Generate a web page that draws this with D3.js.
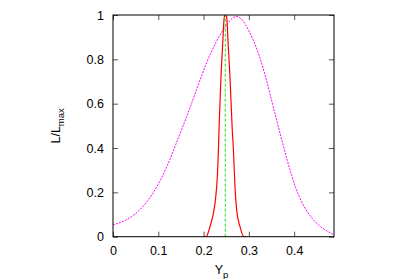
<!DOCTYPE html>
<html lang="en">
<head>
  <meta charset="UTF-8">
  <title>L/Lmax vs Yp</title>
  <script src="https://cdn.jsdelivr.net/npm/d3@7"></script>
  <style>
    * { margin: 0; padding: 0; }
    html, body { background-color: #ffffff; }
    svg text { font-family: "Liberation Sans", Arial, sans-serif; font-size: 12.5px; fill: #000; }
  </style>
</head>
<body>
  <div id="chart"></div>
<script>
  // narrow red curve
  const redX = [0.200, 0.2053, 0.2141, 0.2201, 0.2252, 0.2289, 0.2311, 0.2329, 0.2347, 0.2384, 0.2420, 0.2457, 0.2479,
                0.2510, 0.2545, 0.2583, 0.2634, 0.2656, 0.2693, 0.2731, 0.2804, 0.2892, 0.295]
  const redY = [0, 0, 0.045, 0.09, 0.15, 0.225, 0.30, 0.40, 0.52, 0.72, 0.86, 0.99, 1,
                0.99, 0.86, 0.72, 0.48, 0.406, 0.225, 0.12, 0.045, 0, 0]
  // broad magenta curve
  const magX = [0, 0.0155, 0.0375, 0.0596, 0.0817, 0.1038, 0.1258, 0.1406, 0.1627, 0.1848, 0.2068, 0.2289, 0.2435,
                0.2583, 0.2693, 0.2804, 0.2914, 0.3097, 0.3245, 0.3393, 0.3539, 0.3759, 0.3945, 0.4128, 0.4349,
                0.4570, 0.4790, 0.488]
  const magY = [0.053, 0.063, 0.083, 0.12, 0.173, 0.248, 0.346, 0.428, 0.54, 0.665, 0.79, 0.885, 0.935,
                0.977, 0.997, 0.99, 0.965, 0.89, 0.81, 0.705, 0.585, 0.41, 0.271, 0.166, 0.09,
                0.045, 0.017, 0.01]
  const peakX = 0.248
  const xTicks = [0, 0.1, 0.2, 0.3, 0.4]
  const yTicks = [0, 0.2, 0.4, 0.6, 0.8, 1]

  const W = 400, H = 279
  const m = {left: 113, right: 66, top: 15, bottom: 42.3}

  const svg = d3.select('#chart').append('svg')
    .attr('width', W).attr('height', H)

  const x = d3.scaleLinear().domain([0, 0.488]).range([m.left, W - m.right])
  const y = d3.scaleLinear().domain([0, 1]).range([H - m.bottom, m.top])

  svg.append('clipPath').attr('id', 'clip')
    .append('rect')
    .attr('x', x(0)).attr('y', y(1))
    .attr('width', x(0.488) - x(0)).attr('height', y(0) - y(1))

  // axes with mirrored inward ticks
  const tick = 5
  svg.append('g').attr('transform', `translate(0,${y(0)})`)
    .call(d3.axisBottom(x).tickValues(xTicks).tickSize(-tick).tickPadding(9).tickFormat(d3.format('')))
  svg.append('g').attr('transform', `translate(0,${y(1)})`)
    .call(d3.axisTop(x).tickValues(xTicks).tickSize(-tick).tickFormat(''))
  svg.append('g').attr('transform', `translate(${x(0)},0)`)
    .call(d3.axisLeft(y).tickValues(yTicks).tickSize(-tick).tickPadding(9).tickFormat(d3.format('')))
  svg.append('g').attr('transform', `translate(${x(0.488)},0)`)
    .call(d3.axisRight(y).tickValues(yTicks).tickSize(-tick).tickFormat(''))

  svg.selectAll('.domain').remove()
  svg.selectAll('.tick line').attr('stroke', '#555')
  svg.selectAll('.tick text').attr('font-size', null).attr('font-family', null)

  const g = svg.append('g').attr('clip-path', 'url(#clip)')

  g.append('path')
    .datum(magX.map((v, i) => [v, magY[i]]))
    .attr('d', d3.line().x(d => x(d[0])).y(d => y(d[1])).curve(d3.curveBasis))
    .attr('fill', 'none')
    .attr('stroke', '#ff00ff')
    .attr('stroke-width', 1)
    .attr('stroke-dasharray', '2,1.2')

  g.append('path')
    .datum(redX.map((v, i) => [v, redY[i]]))
    .attr('d', d3.line().x(d => x(d[0])).y(d => y(d[1])).curve(d3.curveMonotoneX))
    .attr('fill', 'none')
    .attr('stroke', '#ff0000')
    .attr('stroke-width', 1.2)

  g.append('line')
    .attr('x1', x(peakX)).attr('x2', x(peakX))
    .attr('y1', y(0)).attr('y2', y(1))
    .attr('stroke', '#00e000')
    .attr('stroke-width', 0.9)
    .attr('stroke-dasharray', '3,2')

  // frame
  svg.append('rect')
    .attr('x', x(0)).attr('y', y(1))
    .attr('width', x(0.488) - x(0)).attr('height', y(0) - y(1))
    .attr('fill', 'none').attr('stroke', '#000').attr('stroke-width', 1)

  // axis titles
  const xt = svg.append('text')
    .attr('x', (x(0) + x(0.488)) / 2 - 2).attr('y', 274)
    .attr('text-anchor', 'middle')
  xt.append('tspan').text('Y')
  xt.append('tspan').attr('dy', 4).attr('font-size', '9.5px').text('p')

  const yt = svg.append('text')
    .attr('transform', `translate(60,${(y(0) + y(1)) / 2}) rotate(-90)`)
    .attr('text-anchor', 'middle')
  yt.append('tspan').text('L/L')
  yt.append('tspan').attr('dy', 3.5).attr('font-size', '9.5px').text('max')
</script>
</body>
</html>
